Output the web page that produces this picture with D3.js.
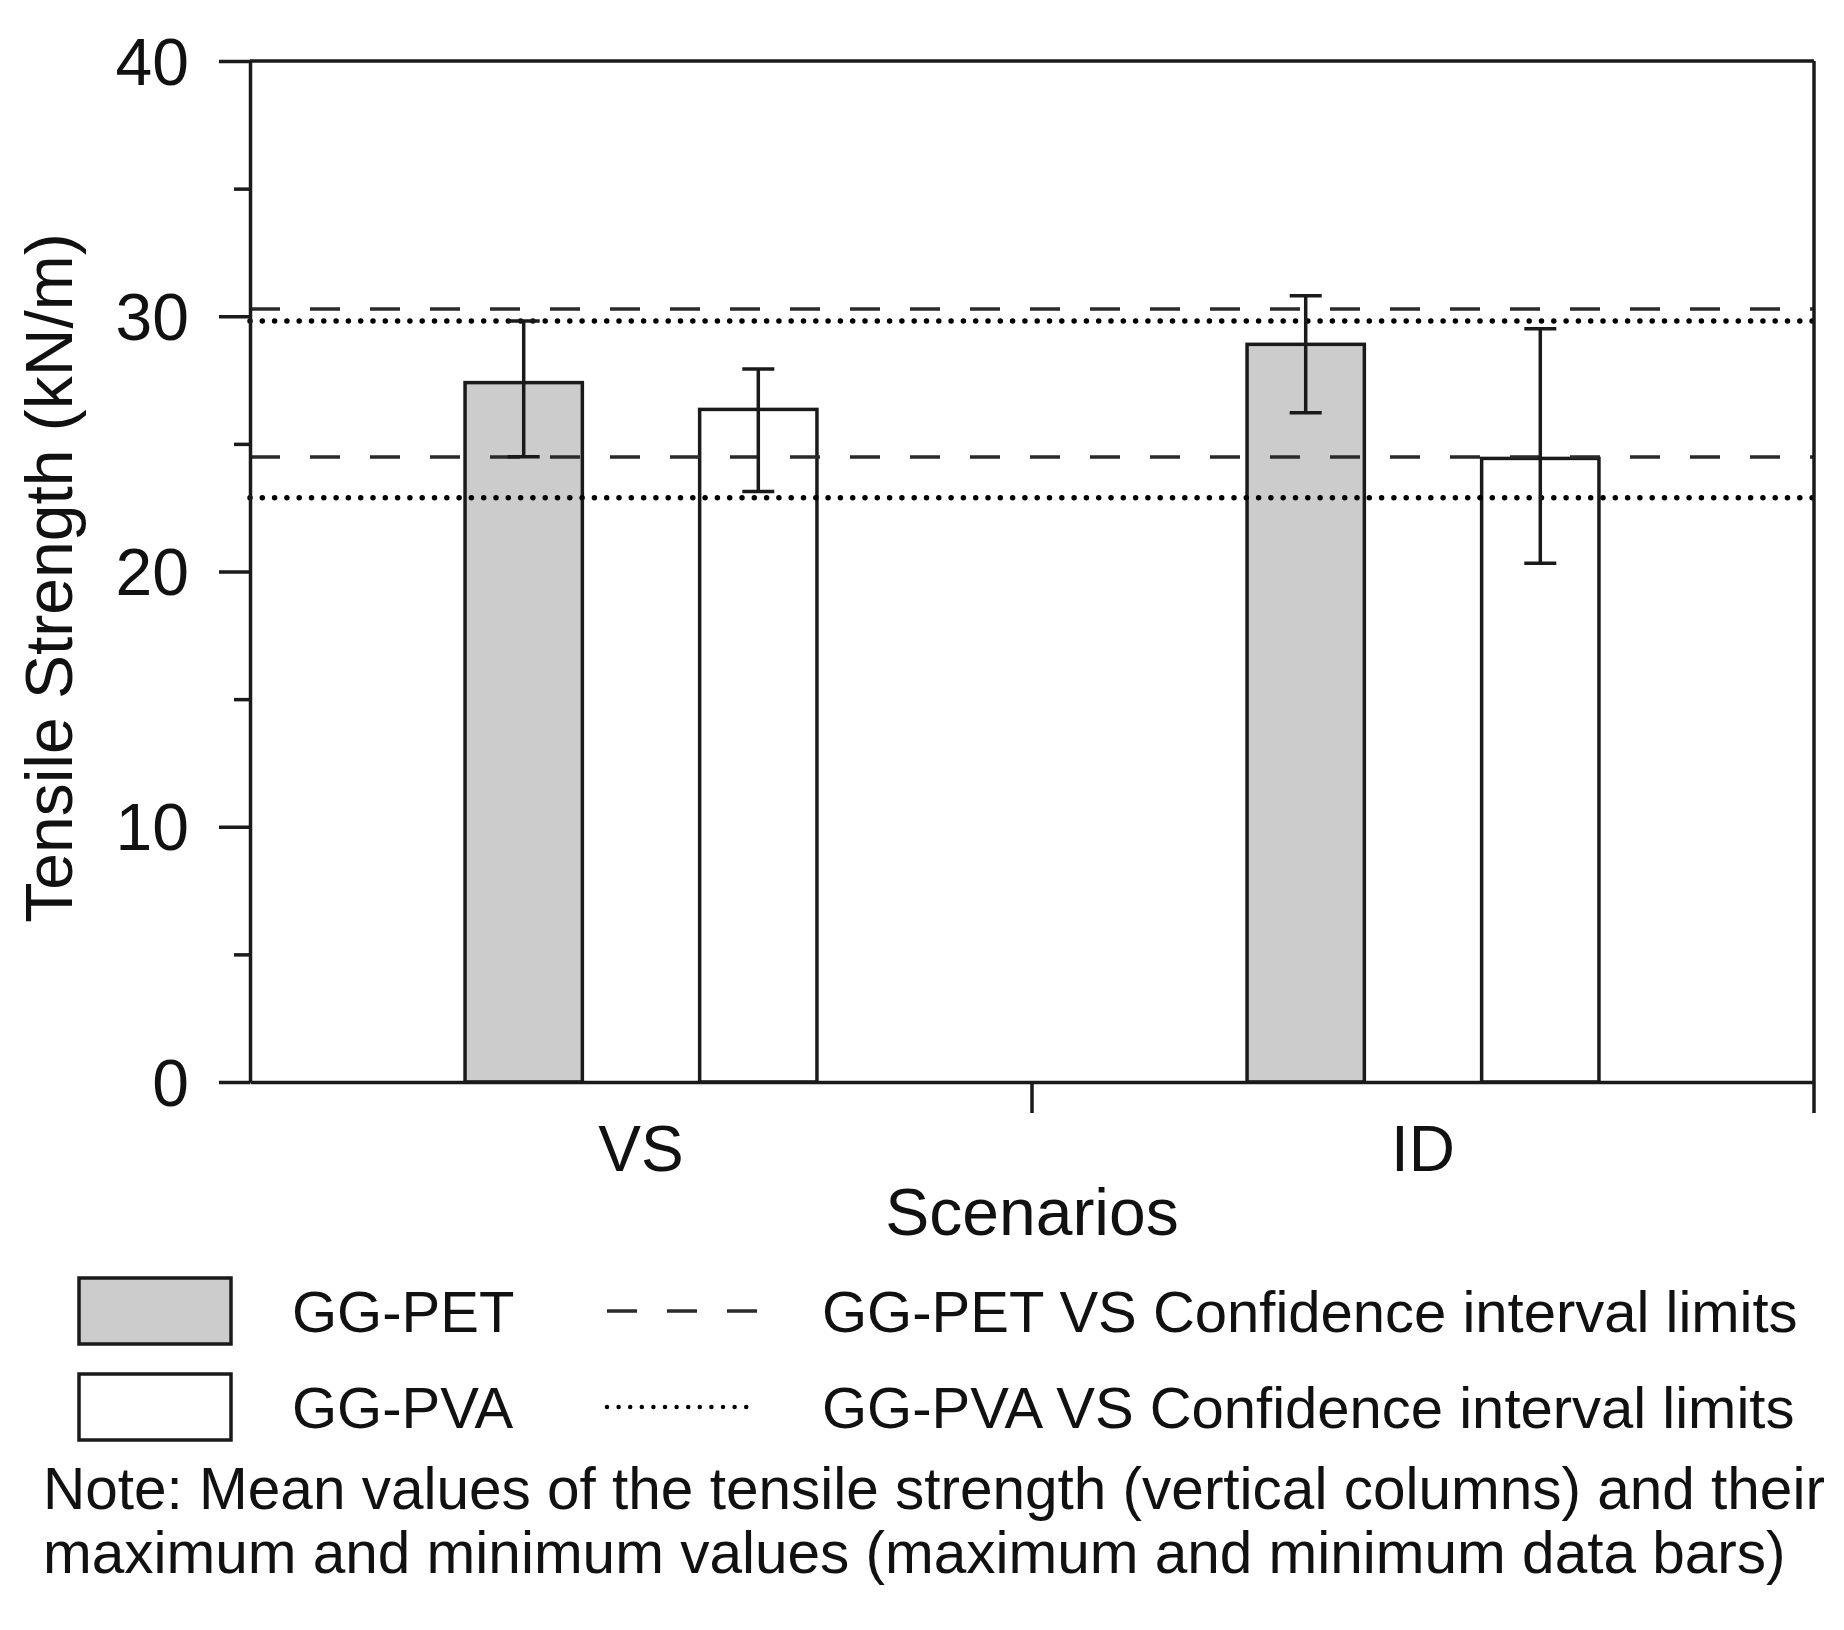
<!DOCTYPE html>
<html>
<head>
    <title>Tensile Strength by Scenario</title>
    <script src="https://d3js.org/d3.v7.min.js"></script>
    <style>
        body { margin: 0; background: #fff; }
        text { font-family: "Liberation Sans", Arial, sans-serif; fill: #111; }
    </style>
</head>
<body>
    <div id="chart"></div>
    <script>
// data
const categories = ["VS", "ID"];
const series = ["GG-PET", "GG-PVA"];
const meanPET = [27.40, 28.90];
const meanPVA = [26.35, 24.43];
const maxPET = [29.81, 30.80];
const maxPVA = [27.93, 29.51];
const minPET = [24.50, 26.22];
const minPVA = [23.13, 20.32];
// VS confidence interval limits
const ciPET = [24.49, 30.28];
const ciPVA = [22.89, 29.81];
const yTicks = [0, 10, 20, 30, 40];
const yMinor = [5, 15, 25, 35];
const legendRows = [
    { name: "GG-PET", fill: "#cccccc", line: "GG-PET VS Confidence interval limits", dash: "dash" },
    { name: "GG-PVA", fill: "#ffffff", line: "GG-PVA VS Confidence interval limits", dash: "dot" }
];
const noteLines = [
    "Note: Mean values of the tensile strength (vertical columns) and their",
    "maximum and minimum values (maximum and minimum data bars)"
];

const rows = [];
categories.forEach((c, i) => {
    rows.push({ cat: c, s: "GG-PET", mean: meanPET[i], max: maxPET[i], min: minPET[i] });
    rows.push({ cat: c, s: "GG-PVA", mean: meanPVA[i], max: maxPVA[i], min: minPVA[i] });
});
const fills = { "GG-PET": "#cccccc", "GG-PVA": "#ffffff" };
const ink = "#1a1a1a";

const svg = d3.select("#chart").append("svg").attr("width", 1844).attr("height", 1630);
const margin = { top: 61, right: 30, bottom: 548, left: 250 };
const width = 1844 - margin.left - margin.right;
const height = 1630 - margin.top - margin.bottom;

const x0 = d3.scaleBand().domain(categories).range([0, width]).padding(0);
const x1 = d3.scaleBand().domain(series)
    .range([x0.bandwidth() * 0.275, x0.bandwidth() * 0.725]).paddingInner(0.5);
const y = d3.scaleLinear().domain([0, 40]).range([height, 0]);

const g = svg.append("g").attr("transform", `translate(${margin.left},${margin.top})`);

// bars
g.selectAll(".bar")
    .data(rows)
    .enter().append("rect")
    .attr("class", "bar")
    .attr("x", d => x0(d.cat) + x1(d.s))
    .attr("y", d => y(d.mean))
    .attr("width", x1.bandwidth())
    .attr("height", d => y(0) - y(d.mean))
    .attr("fill", d => fills[d.s])
    .attr("stroke", ink)
    .attr("stroke-width", 3.5);

// reference lines (confidence interval limits)
g.selectAll(".ci-pet")
    .data(ciPET)
    .enter().append("line")
    .attr("x1", 0).attr("x2", width)
    .attr("y1", d => y(d)).attr("y2", d => y(d))
    .attr("stroke", "#2a2a2a").attr("stroke-width", 3.5)
    .attr("stroke-dasharray", "30 30");
g.selectAll(".ci-pva")
    .data(ciPVA)
    .enter().append("line")
    .attr("x1", 0).attr("x2", width)
    .attr("y1", d => y(d)).attr("y2", d => y(d))
    .attr("stroke", "#000").attr("stroke-width", 5.5)
    .attr("stroke-linecap", "round")
    .attr("stroke-dasharray", "0 12.3");

// error bars
const cap = 16;
const eb = g.selectAll(".err").data(rows).enter().append("g")
    .attr("transform", d => `translate(${x0(d.cat) + x1(d.s) + x1.bandwidth() / 2},0)`)
    .attr("stroke", ink).attr("stroke-width", 3.5);
eb.append("line").attr("y1", d => y(d.min)).attr("y2", d => y(d.max));
eb.append("line").attr("x1", -cap).attr("x2", cap).attr("y1", d => y(d.max)).attr("y2", d => y(d.max));
eb.append("line").attr("x1", -cap).attr("x2", cap).attr("y1", d => y(d.min)).attr("y2", d => y(d.min));

// frame: top and right
g.append("line").attr("x1", 0).attr("x2", width).attr("y1", 0).attr("y2", 0)
    .attr("stroke", ink).attr("stroke-width", 3.5);
g.append("line").attr("x1", width).attr("x2", width).attr("y1", 0).attr("y2", height)
    .attr("stroke", ink).attr("stroke-width", 3.5);

// y axis
const yAxis = g.append("g")
    .call(d3.axisLeft(y).tickValues(yTicks).tickSize(31).tickPadding(30).tickSizeOuter(0));
yAxis.selectAll("text").style("font-size", "66px").attr("dy", "0.35em");
g.append("g")
    .call(d3.axisLeft(y).tickValues(yMinor).tickSize(16).tickFormat("").tickSizeOuter(0))
    .select(".domain").remove();

// x axis: category labels, boundary ticks at band edges
const xAxis = g.append("g").attr("transform", `translate(0,${height})`)
    .call(d3.axisBottom(x0).tickSize(0).tickPadding(44).tickSizeOuter(0));
xAxis.selectAll("text").style("font-size", "64px");
g.selectAll(".xedge")
    .data(categories)
    .enter().append("line")
    .attr("x1", d => x0(d) + x0.bandwidth()).attr("x2", d => x0(d) + x0.bandwidth())
    .attr("y1", height).attr("y2", height + 31)
    .attr("stroke", ink).attr("stroke-width", 3.5);

svg.selectAll(".domain, .tick line").attr("stroke", ink).attr("stroke-width", 3.5);

// axis titles
svg.append("text")
    .attr("x", margin.left + width / 2).attr("y", 1235)
    .attr("text-anchor", "middle").style("font-size", "66px")
    .text("Scenarios");
svg.append("text")
    .attr("transform", "translate(72,578) rotate(-90)")
    .attr("text-anchor", "middle").style("font-size", "66px")
    .text("Tensile Strength (kN/m)");

// legend
const leg = svg.selectAll(".leg").data(legendRows).enter().append("g")
    .attr("transform", (d, i) => `translate(0,${1311 + i * 96})`);
leg.append("rect")
    .attr("x", 79).attr("y", -33).attr("width", 152).attr("height", 66)
    .attr("fill", d => d.fill).attr("stroke", ink).attr("stroke-width", 3.5);
leg.append("text")
    .attr("x", 292).attr("y", 21).style("font-size", "58px")
    .text(d => d.name);
leg.append("line")
    .attr("x1", 607).attr("x2", d => d.dash === "dash" ? 757 : 748)
    .attr("stroke", d => d.dash === "dash" ? "#2a2a2a" : "#000")
    .attr("stroke-width", d => d.dash === "dash" ? 3.5 : 4.5)
    .attr("stroke-linecap", d => d.dash === "dash" ? "butt" : "round")
    .attr("stroke-dasharray", d => d.dash === "dash" ? "30 30" : "0 11.6");
leg.append("text")
    .attr("x", 822).attr("y", 21).style("font-size", "58px")
    .text(d => d.line);

// note
svg.selectAll(".note").data(noteLines).enter().append("text")
    .attr("x", 43).attr("y", (d, i) => 1509 + i * 64)
    .style("font-size", "58.5px")
    .text(d => d);
    </script>
</body>
</html>
